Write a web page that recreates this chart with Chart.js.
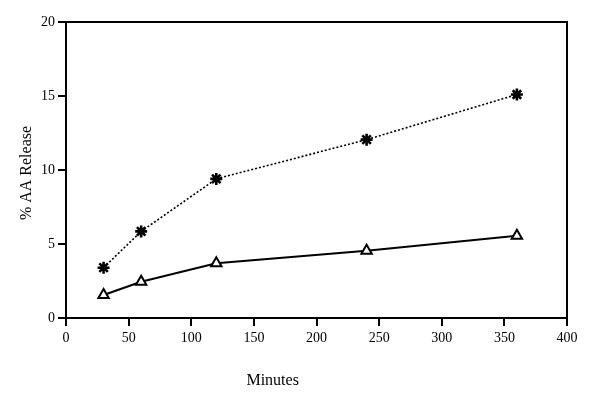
<!DOCTYPE html>
<html>
<head>
<meta charset="utf-8">
<script src="https://cdn.jsdelivr.net/npm/chart.js@4"></script>
<style>
html,body{margin:0;padding:0;background:#fff;}
#wrap{width:600px;height:403px;position:relative;}
</style>
</head>
<body>
<div id="wrap"><canvas id="c" width="600" height="403"></canvas></div>
<script>
const minutes = [30, 60, 120, 240, 360];
const starSeries = [3.4, 5.85, 9.4, 12.05, 15.1];
const triangleSeries = [1.55, 2.45, 3.7, 4.55, 5.55];
const xTicks = [0, 50, 100, 150, 200, 250, 300, 350, 400];
const yTicks = [0, 5, 10, 15, 20];
const xTitle = 'Minutes';
const yTitle = '% AA Release';

const FONT = '"Liberation Serif", "Times New Roman", serif';

const framePlugin = {
  id: 'frame',
  afterDraw(chart) {
    const {ctx, chartArea: a, scales} = chart;
    ctx.save();
    ctx.strokeStyle = '#000';
    ctx.lineWidth = 2;
    ctx.beginPath();
    ctx.moveTo(a.left, a.top);
    ctx.lineTo(a.right, a.top);
    ctx.lineTo(a.right, a.bottom);
    ctx.stroke();
    ctx.fillStyle = '#000';
    ctx.font = '16px ' + FONT;
    ctx.textAlign = 'center';
    ctx.textBaseline = 'middle';
    ctx.fillText(xTitle, scales.x.getPixelForValue(165), 381);
    ctx.translate(27, (a.top + a.bottom) / 2 + 3);
    ctx.rotate(-Math.PI / 2);
    ctx.fillText(yTitle, 0, 0);
    ctx.restore();
  }
};

new Chart(document.getElementById('c'), {
  type: 'line',
  data: {
    datasets: [
      {
        data: minutes.map((m, i) => ({x: m, y: starSeries[i]})),
        borderColor: '#000',
        borderWidth: 1.6,
        borderDash: [2, 2],
        pointStyle: 'star',
        pointRadius: 6,
        pointBorderWidth: 2.6,
        pointBorderColor: '#000',
        pointBackgroundColor: '#000',
        tension: 0
      },
      {
        data: minutes.map((m, i) => ({x: m, y: triangleSeries[i]})),
        borderColor: '#000',
        borderWidth: 2,
        pointStyle: 'triangle',
        pointRadius: 6,
        pointBorderWidth: 2,
        pointBorderColor: '#000',
        pointBackgroundColor: '#fff',
        tension: 0
      }
    ]
  },
  options: {
    responsive: false,
    animation: false,
    layout: {padding: {left: 0, right: 33, top: 22, bottom: 0}},
    plugins: {legend: {display: false}, tooltip: {enabled: false}},
    scales: {
      x: {
        type: 'linear',
        min: 0, max: 400,
        afterBuildTicks: s => { s.ticks = xTicks.map(v => ({value: v})); },
        afterFit: s => { s.height = 85; },
        grid: {drawOnChartArea: false, drawTicks: true, tickLength: 8, color: '#000', lineWidth: 2},
        border: {display: true, color: '#000', width: 2},
        ticks: {color: '#000', font: {family: FONT, size: 14}, padding: 4, maxRotation: 0}
      },
      y: {
        type: 'linear',
        min: 0, max: 20,
        afterBuildTicks: s => { s.ticks = yTicks.map(v => ({value: v})); },
        afterFit: s => { s.width = 66; },
        grid: {drawOnChartArea: false, drawTicks: true, tickLength: 8, color: '#000', lineWidth: 2},
        border: {display: true, color: '#000', width: 2},
        ticks: {color: '#000', font: {family: FONT, size: 14}, padding: 3}
      }
    }
  },
  plugins: [framePlugin]
});
</script>
</body>
</html>
